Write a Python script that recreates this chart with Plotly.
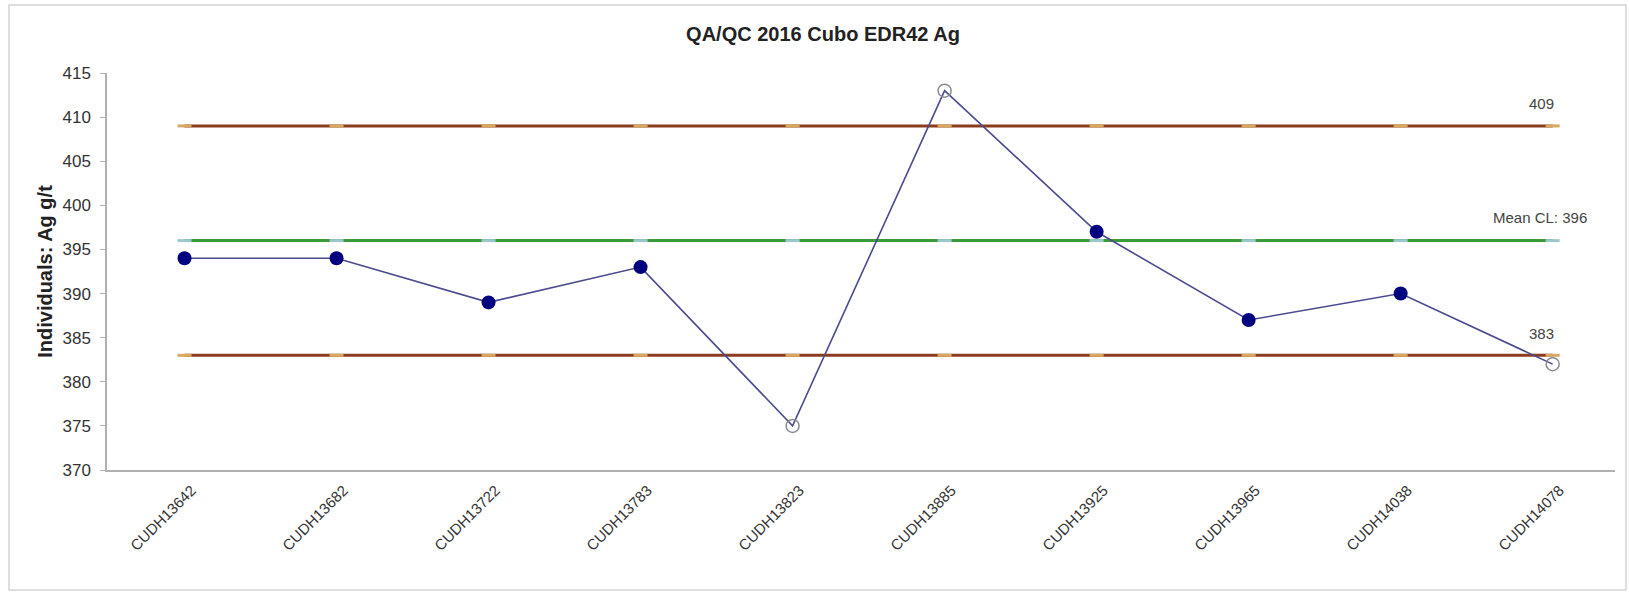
import plotly.graph_objects as go

# Sample IDs and individual Ag assays (g/t)
samples = ["CUDH13642", "CUDH13682", "CUDH13722", "CUDH13783", "CUDH13823",
           "CUDH13885", "CUDH13925", "CUDH13965", "CUDH14038", "CUDH14078"]
ag_values = [394, 394, 389, 393, 375, 413, 397, 387, 390, 382]

# Control limits
ucl = 409
mean_cl = 396
lcl = 383

y_ticks = [370, 375, 380, 385, 390, 395, 400, 405, 410, 415]

FONT = "Liberation Sans, Arial, sans-serif"
W, H = 1629, 592
ML, MR, MT, MB = 107, 14, 73, 122

in_ctrl = [(s, v) for s, v in zip(samples, ag_values) if lcl <= v <= ucl]
out_ctrl = [(s, v) for s, v in zip(samples, ag_values) if v < lcl or v > ucl]

fig = go.Figure()


def limit_line(value, color, tick_color):
    fig.add_trace(go.Scatter(
        x=samples, y=[value] * len(samples), mode="lines+markers",
        line=dict(color=color, width=3),
        marker=dict(symbol="line-ew", size=10,
                    line=dict(color=tick_color, width=3)),
        hoverinfo="skip", showlegend=False,
    ))


limit_line(ucl, "#8b3c1e", "#d8a860")
limit_line(lcl, "#8b3c1e", "#d8a860")
limit_line(mean_cl, "#3a9a3a", "#9cc8cc")

# Individuals line
fig.add_trace(go.Scatter(
    x=samples, y=ag_values, mode="lines",
    line=dict(color="#4b4b8f", width=1.6),
    showlegend=False,
))
# In-control points
fig.add_trace(go.Scatter(
    x=[p[0] for p in in_ctrl], y=[p[1] for p in in_ctrl], mode="markers",
    marker=dict(symbol="circle", size=14, color="#000080"),
    showlegend=False,
))
# Out-of-control points
fig.add_trace(go.Scatter(
    x=[p[0] for p in out_ctrl], y=[p[1] for p in out_ctrl], mode="markers",
    marker=dict(symbol="circle-open", size=13, color="#8a8a9a",
                line=dict(width=1.5)),
    showlegend=False,
))

label_font = dict(family=FONT, size=15, color="#444444")
fig.add_annotation(x=samples[-1], y=ucl, text=f"{ucl}", showarrow=False,
                   xanchor="center", xshift=-11, yshift=22, font=label_font)
fig.add_annotation(x=samples[-1], y=mean_cl, text=f"Mean CL: {mean_cl}",
                   showarrow=False, xanchor="right", xshift=36, yshift=23,
                   font=label_font)
fig.add_annotation(x=samples[-1], y=lcl, text=f"{lcl}", showarrow=False,
                   xanchor="center", xshift=-11, yshift=22, font=label_font)

# Outer frame around the whole chart
pw, ph = W - ML - MR, H - MT - MB
fig.add_shape(type="rect", xref="paper", yref="paper",
              x0=(9 - ML) / pw, x1=(1626 - ML) / pw,
              y0=(H - MB - 590) / ph, y1=(H - MB - 5) / ph,
              line=dict(color="#d4d4d4", width=1.5), fillcolor="rgba(0,0,0,0)",
              layer="below")

fig.update_layout(
    width=W, height=H,
    margin=dict(l=ML, r=MR, t=MT, b=MB),
    paper_bgcolor="white", plot_bgcolor="white",
    title=dict(text="<b>QA/QC 2016 Cubo EDR42 Ag</b>",
               font=dict(family=FONT, size=20, color="#222222"),
               x=823 / W, xanchor="center", xref="container",
               y=1 - 34 / H, yanchor="middle", yref="container"),
    xaxis=dict(
        type="category", range=[-0.51, 9.41],
        tickangle=-45, tickfont=dict(family=FONT, size=15, color="#333333"),
        showgrid=False, zeroline=False,
        showline=True, linecolor="#b0b0b0", linewidth=1.5,
        ticks="", ticklabelshift=7, ticklabelstandoff=4,
    ),
    yaxis=dict(
        range=[370, 415], tickvals=y_ticks,
        tickfont=dict(family=FONT, size=17, color="#333333"),
        showgrid=False, zeroline=False,
        showline=True, linecolor="#b0b0b0", linewidth=1.5,
        ticks="outside", ticklen=5, tickcolor="#b0b0b0",
        ticklabelstandoff=6,
        title=dict(text="<b>Individuals: Ag g/t</b>",
                   font=dict(family=FONT, size=20, color="#222222"),
                   standoff=4),
    ),
)

fig.write_html("out.html")
